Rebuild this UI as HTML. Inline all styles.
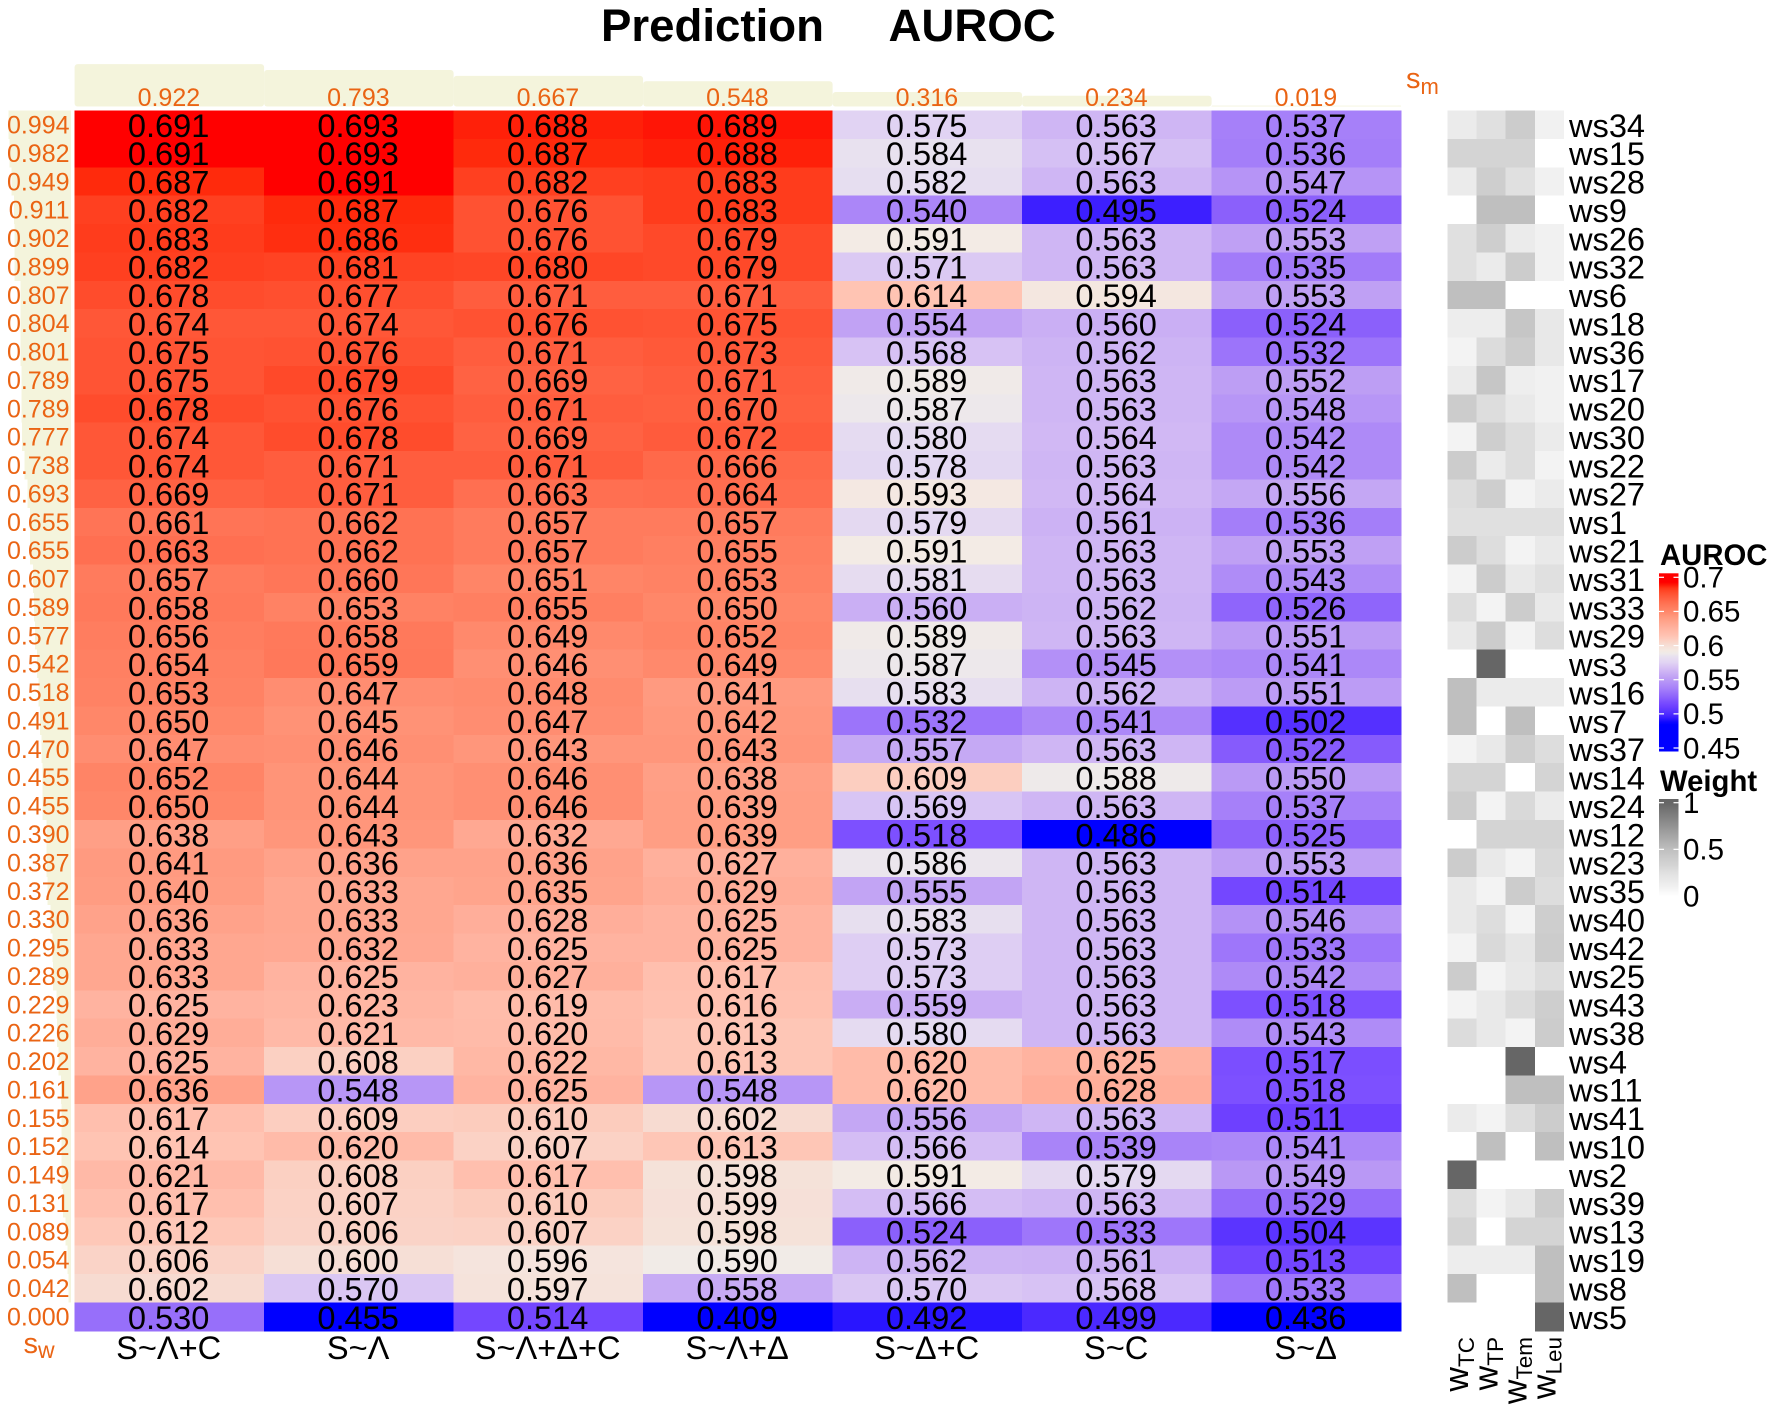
<!DOCTYPE html>
<html lang="en">
<head>
<meta charset="utf-8">
<title>Prediction AUROC heatmap</title>
<style>
html,body{margin:0;padding:0;background:#fff;}
svg{display:block;font-family:"Liberation Sans",sans-serif;}
</style>
</head>
<body>
<svg id="chart" xmlns="http://www.w3.org/2000/svg" width="1772" height="1412" viewBox="0 0 1772 1412">
  <defs id="defs"></defs>
  <rect x="0" y="0" width="1772" height="1412" fill="#ffffff"/>
  <text x="601" y="41" font-size="45.6" font-weight="bold" fill="#000">Prediction</text>
  <text x="888.5" y="41" font-size="45.6" font-weight="bold" fill="#000">AUROC</text>
  <g id="topBars"></g>
  <g id="leftBars"></g>
  <g id="cells"></g>
  <g id="cellText"></g>
  <g id="topLabels"></g>
  <g id="leftLabels"></g>
  <g id="modelLabels"></g>
  <g id="weightCells"></g>
  <g id="wsLabels"></g>
  <g id="weightAxis"></g>
  <text x="1406" y="88" font-size="29" fill="#ea6414">s<tspan font-size="22" dy="6">m</tspan></text>
  <text x="23.5" y="1353" font-size="29" fill="#ea6414">s<tspan font-size="23" dy="5">w</tspan></text>
  <text x="1660" y="565" font-size="29.3" font-weight="bold" fill="#000">AUROC</text>
  <text x="1660" y="791" font-size="29.3" font-weight="bold" fill="#000">Weight</text>
  <g id="aurocLegend"></g>
  <g id="weightLegend"></g>
</svg>
<script>
// ---------- data ----------
const models = ["S~Λ+C","S~Λ","S~Λ+Δ+C","S~Λ+Δ","S~Δ+C","S~C","S~Δ"];
const modelScores = [0.922,0.793,0.667,0.548,0.316,0.234,0.019];
const workflowScores = [0.994,0.982,0.949,0.911,0.902,0.899,0.807,0.804,0.801,0.789,0.789,0.777,0.738,0.693,0.655,0.655,0.607,0.589,0.577,0.542,0.518,0.491,0.470,0.455,0.455,0.390,0.387,0.372,0.330,0.295,0.289,0.229,0.226,0.202,0.161,0.155,0.152,0.149,0.131,0.089,0.054,0.042,0.000];
const weightSets = ["ws34","ws15","ws28","ws9","ws26","ws32","ws6","ws18","ws36","ws17","ws20","ws30","ws22","ws27","ws1","ws21","ws31","ws33","ws29","ws3","ws16","ws7","ws37","ws14","ws24","ws12","ws23","ws35","ws40","ws42","ws25","ws43","ws38","ws4","ws11","ws41","ws10","ws2","ws39","ws13","ws19","ws8","ws5"];
const aurocLambdaC = [0.691,0.691,0.687,0.682,0.683,0.682,0.678,0.674,0.675,0.675,0.678,0.674,0.674,0.669,0.661,0.663,0.657,0.658,0.656,0.654,0.653,0.650,0.647,0.652,0.650,0.638,0.641,0.640,0.636,0.633,0.633,0.625,0.629,0.625,0.636,0.617,0.614,0.621,0.617,0.612,0.606,0.602,0.530];
const aurocLambda = [0.693,0.693,0.691,0.687,0.686,0.681,0.677,0.674,0.676,0.679,0.676,0.678,0.671,0.671,0.662,0.662,0.660,0.653,0.658,0.659,0.647,0.645,0.646,0.644,0.644,0.643,0.636,0.633,0.633,0.632,0.625,0.623,0.621,0.608,0.548,0.609,0.620,0.608,0.607,0.606,0.600,0.570,0.455];
const aurocLambdaDeltaC = [0.688,0.687,0.682,0.676,0.676,0.680,0.671,0.676,0.671,0.669,0.671,0.669,0.671,0.663,0.657,0.657,0.651,0.655,0.649,0.646,0.648,0.647,0.643,0.646,0.646,0.632,0.636,0.635,0.628,0.625,0.627,0.619,0.620,0.622,0.625,0.610,0.607,0.617,0.610,0.607,0.596,0.597,0.514];
const aurocLambdaDelta = [0.689,0.688,0.683,0.683,0.679,0.679,0.671,0.675,0.673,0.671,0.670,0.672,0.666,0.664,0.657,0.655,0.653,0.650,0.652,0.649,0.641,0.642,0.643,0.638,0.639,0.639,0.627,0.629,0.625,0.625,0.617,0.616,0.613,0.613,0.548,0.602,0.613,0.598,0.599,0.598,0.590,0.558,0.409];
const aurocDeltaC = [0.575,0.584,0.582,0.540,0.591,0.571,0.614,0.554,0.568,0.589,0.587,0.580,0.578,0.593,0.579,0.591,0.581,0.560,0.589,0.587,0.583,0.532,0.557,0.609,0.569,0.518,0.586,0.555,0.583,0.573,0.573,0.559,0.580,0.620,0.620,0.556,0.566,0.591,0.566,0.524,0.562,0.570,0.492];
const aurocC = [0.563,0.567,0.563,0.495,0.563,0.563,0.594,0.560,0.562,0.563,0.563,0.564,0.563,0.564,0.561,0.563,0.563,0.562,0.563,0.545,0.562,0.541,0.563,0.588,0.563,0.486,0.563,0.563,0.563,0.563,0.563,0.563,0.563,0.625,0.628,0.563,0.539,0.579,0.563,0.533,0.561,0.568,0.499];
const aurocDelta = [0.537,0.536,0.547,0.524,0.553,0.535,0.553,0.524,0.532,0.552,0.548,0.542,0.542,0.556,0.536,0.553,0.543,0.526,0.551,0.541,0.551,0.502,0.522,0.550,0.537,0.525,0.553,0.514,0.546,0.533,0.542,0.518,0.543,0.517,0.518,0.511,0.541,0.549,0.529,0.504,0.513,0.533,0.436];
const aurocSeries = [aurocLambdaC,aurocLambda,aurocLambdaDeltaC,aurocLambdaDelta,aurocDeltaC,aurocC,aurocDelta];
const weightTC = [.15,.33,.15,0,.25,.25,.5,.13,.08,.15,.4,.08,.4,.27,.25,.4,.08,.27,.17,0,.5,.5,.08,.33,.4,0,.4,.17,.17,.08,.4,.08,.28,0,0,.15,0,1,.27,.33,.13,.5,0];
const weightTP = [.25,.33,.38,.5,.38,.15,.5,.13,.28,.45,.27,.38,.15,.38,.25,.27,.4,.08,.4,1,.15,0,.17,.33,.08,.33,.17,.08,.27,.3,.08,.17,.17,0,0,.08,.5,0,.08,0,.13,0,0];
const weightTem = [.4,.33,.25,.5,.15,.4,0,.45,.4,.12,.17,.27,.27,.08,.25,.08,.17,.4,.08,0,.15,.5,.38,0,.3,.33,.08,.4,.08,.2,.18,.28,.08,1,.5,.27,0,0,.18,.33,.13,0,0];
const weightLeu = [.1,0,.1,0,.1,.1,0,.18,.18,.1,.1,.15,.08,.15,.25,.17,.25,.17,.27,0,.15,0,.27,.33,.15,.33,.3,.27,.38,.4,.27,.38,.4,0,.5,.4,.5,0,.4,.33,.5,.5,1];
const weightSeries = [weightTC,weightTP,weightTem,weightLeu];
const weightColumns = [["w","TC"],["w","TP"],["w","Tem"],["w","Leu"]];
const aurocTicks = [0.7,0.65,0.6,0.55,0.5,0.45];
const weightTicks = [1,0.5,0];

// ---------- scales ----------
const aurocStopValues = [0.486,0.495,0.502,0.511,0.518,0.524,0.537,0.553,0.563,0.575,0.584,0.588,0.591,0.6,0.614,0.625,0.64,0.65,0.66,0.676,0.682,0.687,0.691];
const aurocStopColors = ["#0000ff","#3d1fff","#5530ff","#6e40ff","#7d50ff","#8b60fb","#a680f9","#bfa0f4","#cfb6f4","#e1d3f3","#e8e1ef","#eeeaea","#f3ebe5","#f6dfd6","#ffc4b3","#ffb3a0","#ff9c82","#ff8769","#ff7658","#ff5232","#ff4020","#ff2a0c","#ff0000"];
const weightStopValues = [0,0.08,0.15,0.25,0.33,0.4,0.5,1];
const weightStopGrays = [255,243,235,224,212,204,191,102];

function hexRgb(h){return [parseInt(h.slice(1,3),16),parseInt(h.slice(3,5),16),parseInt(h.slice(5,7),16)];}
function aurocColor(v){
  const d=aurocStopValues,c=aurocStopColors;
  if(v<=d[0])return c[0];
  if(v>=d[d.length-1])return c[c.length-1];
  let i=0;while(v>d[i+1])i++;
  const t=(v-d[i])/(d[i+1]-d[i]),a=hexRgb(c[i]),b=hexRgb(c[i+1]);
  return "rgb("+a.map((x,k)=>Math.round(x+(b[k]-x)*t)).join(",")+")";
}
function weightColor(v){
  const d=weightStopValues,c=weightStopGrays;
  if(v<=d[0])return "rgb(255,255,255)";
  if(v>=d[d.length-1])return "rgb(102,102,102)";
  let i=0;while(v>d[i+1])i++;
  const g=Math.round(c[i]+(c[i+1]-c[i])*(v-d[i])/(d[i+1]-d[i]));
  return "rgb("+g+","+g+","+g+")";
}
const heatLeft=74.6,heatTop=110.5,colW=189.5,rowH=28.38;
const wLeft=1447.3,wColW=29.15;
function xCol(j){return heatLeft+j*colW;}
function yRow(i){return heatTop+i*rowH;}
function xWeight(j){return wLeft+j*wColW;}
function topBarHeight(s){return s*46;}
function leftBarWidth(s){return s*62.8;}
function yAurocLegend(v){return 748-(v-0.45)*682.8;}
function yWeightLegend(v){return 896-v*93.3;}

// ---------- drawing ----------
const NS="http://www.w3.org/2000/svg";
const orange="#ea6414";
function make(parent,tag,attrs,text){
  const el=document.createElementNS(NS,tag);
  for(const k in attrs)el.setAttribute(k,attrs[k]);
  if(text!==undefined)el.textContent=text;
  document.getElementById(parent).appendChild(el);
  return el;
}

modelScores.forEach(function(s,j){
  const h=topBarHeight(s);
  const bar=make("topBars","rect",{x:xCol(j),y:106.5-h,width:colW,height:h,rx:Math.min(3,h/2),fill:"#f4f4dc"});
  
  
  const lab=make("topLabels","text",{x:xCol(j)+colW/2-0.5,y:106,"font-size":25,"text-anchor":"middle",fill:orange},s.toFixed(3));
  
  
});

workflowScores.forEach(function(s,i){
  const w=leftBarWidth(s);
  const bar=make("leftBars","rect",{x:71-w,y:yRow(i),width:w,height:rowH,fill:"#f4f4dc","shape-rendering":"crispEdges"});
  
  
  const lab=make("leftLabels","text",{x:69.5,y:yRow(i)+23,"font-size":25,"text-anchor":"end",fill:orange},s.toFixed(3));
  
  
});

aurocSeries.forEach(function(series,j){
  series.forEach(function(v,i){
    const cell=make("cells","rect",{x:xCol(j),y:yRow(i),width:colW+0.5,height:rowH+0.5,fill:aurocColor(v),"shape-rendering":"crispEdges"});
    
    
    const t=make("cellText","text",{x:xCol(j)+colW/2-0.7,y:yRow(i)+26.3,"font-size":32.6,"text-anchor":"middle",fill:"#000"},v.toFixed(3));
    
    
  });
});

models.forEach(function(m,j){
  const t=make("modelLabels","text",{x:xCol(j)+colW/2-0.7,y:1359,"font-size":32.6,"text-anchor":"middle",fill:"#000"},m);
  
  
});

weightSeries.forEach(function(series,j){
  series.forEach(function(v,i){
    const cell=make("weightCells","rect",{x:xWeight(j),y:yRow(i),width:wColW+0.3,height:rowH+0.5,fill:weightColor(v),"shape-rendering":"crispEdges"});
    
    
  });
});

weightSets.forEach(function(n,i){
  const t=make("wsLabels","text",{x:1569,y:yRow(i)+26.3,"font-size":32.6,fill:"#000"},n);
  
  
});

weightColumns.forEach(function(c,j){
  const t=make("weightAxis","text",{transform:"translate("+(xWeight(j)+wColW/2+6.3)+",1337) rotate(-90)","font-size":34,"text-anchor":"end",fill:"#000"});
  
  
  const a=document.createElementNS(NS,"tspan");
  a.textContent=c[0];
  t.appendChild(a);
  const b=document.createElementNS(NS,"tspan");
  b.setAttribute("font-size","22.5");
  b.setAttribute("dy","5.7");
  b.textContent=c[1];
  t.appendChild(b);
});

// legends
function gradient(id,fn,hi,lo){
  const g=make("defs","linearGradient",{id:id,x1:0,y1:0,x2:0,y2:1});
  const n=60;
  for(let k=0;k<=n;k++){
    const s=document.createElementNS(NS,"stop");
    s.setAttribute("offset",k/n);
    s.setAttribute("stop-color",fn(hi+(lo-hi)*k/n));
    g.appendChild(s);
  }
}
gradient("aurocGrad",aurocColor,(748-573.3)/682.8+0.45,(748-751.5)/682.8+0.45);
gradient("weightGrad",weightColor,(896-799)/93.3,0);

const aBar=make("aurocLegend","rect",{x:1659,y:573.3,width:19.5,height:178.2,fill:"url(#aurocGrad)"});


aurocTicks.forEach(function(v){
  const y=yAurocLegend(v);
  const l=make("aurocLegend","rect",{x:1659,y:y-0.6,width:5,height:1.2,fill:"#fff"});
  
  
  const r=make("aurocLegend","rect",{x:1673.5,y:y-0.6,width:5,height:1.2,fill:"#fff"});
  
  
  const t=make("aurocLegend","text",{x:1683,y:y+10.3,"font-size":29.5,fill:"#000"},String(v));
  
  
});

const wBar=make("weightLegend","rect",{x:1659,y:799,width:19.5,height:97,fill:"url(#weightGrad)"});


weightTicks.forEach(function(v){
  const y=yWeightLegend(v);
  const l=make("weightLegend","rect",{x:1659,y:y-0.6,width:5,height:1.2,fill:"#fff"});
  
  
  const r=make("weightLegend","rect",{x:1673.5,y:y-0.6,width:5,height:1.2,fill:"#fff"});
  
  
  const t=make("weightLegend","text",{x:1683,y:y+10.3,"font-size":29.5,fill:"#000"},String(v));
  
  
});
</script>
</body>
</html>
